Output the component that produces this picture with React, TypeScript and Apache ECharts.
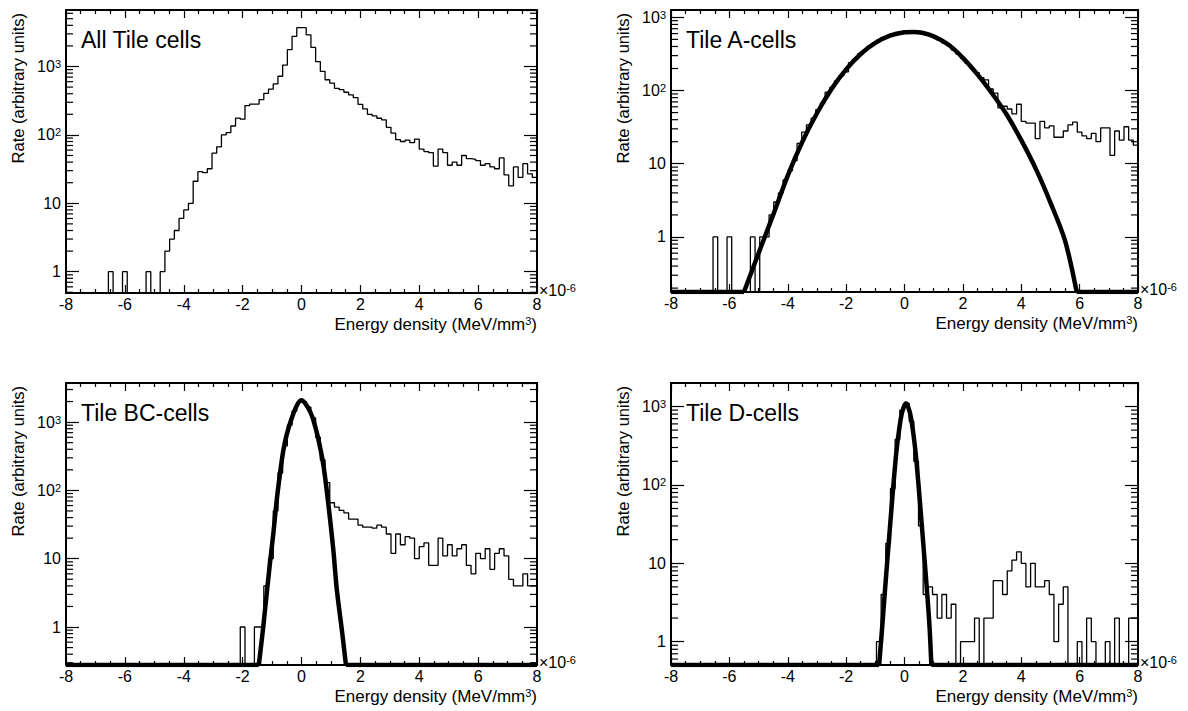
import { useEffect, useRef } from "react";
import * as echarts from "echarts";

const BIN_COUNT = 100;
const X_MIN = -8;
const X_MAX = 8;
const X_TICK_STEP = 2;

// histogram contents, 100 bins from -8 to 8 (x 10^-6 MeV/mm^3)
const allTileCounts = [
  0, 0, 0, 0, 0, 0, 0, 0, 0, 1,
  0, 0, 1, 0, 0, 0, 0, 1, 0, 0,
  1, 2, 3, 4, 6, 8, 10, 21, 29, 28,
  32, 54, 67, 100, 108, 135, 176, 170, 268, 282,
  282, 328, 405, 468, 556, 720, 1050, 1760, 2760, 3700,
  3700, 2900, 1900, 1180, 850, 640, 570, 480, 458, 420,
  385, 350, 280, 240, 200, 190, 175, 166, 129, 106,
  85, 80, 84, 77, 87, 62, 57, 55, 35, 62,
  55, 36, 40, 36, 50, 45, 44, 42, 36, 38,
  34, 32, 46, 26, 18, 34, 24, 38, 27, 24,
];

const tileACounts = [
  0, 0, 0, 0, 0, 0, 0, 0, 0, 1,
  0, 0, 1, 0, 0, 0, 0, 1, 0, 1,
  1, 2, 3, 4, 6, 8, 11, 19, 27, 34,
  42, 55, 68, 95, 110, 135, 160, 180, 240, 265,
  320, 350, 400, 440, 490, 530, 560, 590, 610, 625,
  630, 640, 640, 620, 600, 570, 530, 490, 450, 410,
  360, 315, 275, 235, 200, 175, 150, 140, 105, 92,
  58, 61, 56, 48, 65, 38, 36, 36, 22, 38,
  31, 33, 23, 23, 28, 34, 37, 27, 24, 22,
  26, 20, 31, 31, 13, 28, 21, 32, 21, 18,
];

const tileBCCounts = [
  0, 0, 0, 0, 0, 0, 0, 0, 0, 0,
  0, 0, 0, 0, 0, 0, 0, 0, 0, 0,
  0, 0, 0, 0, 0, 0, 0, 0, 0, 0,
  0, 0, 0, 0, 0, 0, 0, 1, 0, 0,
  1, 1, 4, 10, 50, 180, 450, 900, 1450, 1950,
  2000, 1650, 1150, 600, 280, 130, 66, 57, 51, 47,
  38, 38, 31, 29, 29, 28, 31, 29, 23, 12,
  23, 16, 21, 20, 10, 15, 17, 8, 8, 20,
  11, 16, 11, 14, 16, 8, 6, 12, 10, 14,
  7, 12, 14, 11, 5, 4, 4, 6, 4, 4,
];

const tileDCounts = [
  0, 0, 0, 0, 0, 0, 0, 0, 0, 0,
  0, 0, 0, 0, 0, 0, 0, 0, 0, 0,
  0, 0, 0, 0, 0, 0, 0, 0, 0, 0,
  0, 0, 0, 0, 0, 0, 0, 0, 0, 0,
  0, 0, 0, 0, 1, 4, 18, 90, 380, 900,
  1100, 650, 200, 30, 4, 5, 4, 2, 4, 2,
  3, 0, 1, 1, 1, 2, 0, 2, 2, 6,
  6, 4, 8, 11, 14, 10, 5, 10, 5, 5,
  6, 4, 1, 3, 5, 0, 0, 1, 0, 2,
  1, 0, 0, 1, 0, 2, 0, 0, 2, 2,
];

// fit curves: [x, rate]; 0 = where the curve leaves the plotted range
const tileAFit = [
  [-5.5, 0], [-5.0, 0.6], [-4.5, 2.0], [-4.0, 6.9], [-3.5, 20],
  [-3.0, 49], [-2.5, 105], [-2.0, 195], [-1.5, 316], [-1.0, 447], [-0.5, 562],
  [0.0, 624], [0.3, 631], [0.6, 617], [1.0, 550], [1.5, 425], [2.0, 280],
  [2.5, 166], [3.0, 91], [3.5, 47], [4.0, 21], [4.5, 8.5], [5.0, 2.95],
  [5.5, 0.89], [5.9, 0],
];

const tileBCFit = [
  [-1.45, 0], [-1.38, 0.5], [-1.3, 1.0], [-1.2, 2.6], [-1.07, 8.7],
  [-0.95, 25], [-0.84, 73], [-0.72, 190], [-0.62, 380], [-0.5, 660],
  [-0.33, 1150], [-0.15, 1780], [0.0, 2080], [0.15, 1820], [0.3, 1400],
  [0.4, 1080], [0.55, 620], [0.74, 240], [0.9, 70], [1.08, 13.6],
  [1.2, 3.5], [1.37, 0.91], [1.51, 0],
];

const tileDFit = [
  [-0.87, 0], [-0.78, 1.3], [-0.68, 4], [-0.58, 12], [-0.48, 35],
  [-0.38, 100], [-0.28, 260], [-0.18, 520], [-0.08, 850], [0.05, 1100],
  [0.18, 850], [0.28, 520], [0.38, 260], [0.48, 100], [0.58, 35], [0.68, 12],
  [0.78, 4], [0.86, 1.5], [0.92, 0],
];

const panelLabels = ["All Tile cells", "Tile A-cells", "Tile BC-cells", "Tile D-cells"];
const yMinima = [0.488, 0.177, 0.278, 0.504];
const yMaxima = [6700, 1260, 3735, 1995];
const yTitle = "Rate (arbitrary units)";
const xTitleText = "{b|Energy density (MeV/mm}{s|3}{b|)}";
const xScaleText = "{b|×10}{s|-6}";
const decadeLabels = ["1", "10", "{b|10}{s|2}", "{b|10}{s|3}"];
const minorMultipliers = [2, 3, 4, 5, 6, 7, 8, 9];
const decadeBases = [0.1, 1, 10, 100, 1000];

const panelCounts = [allTileCounts, tileACounts, tileBCCounts, tileDCounts];
const panelFits = [null, tileAFit, tileBCFit, tileDFit];

// layout (page pixels)
const frames = [
  { left: 66, top: 10, width: 471, height: 283 },
  { left: 671, top: 10, width: 467, height: 282 },
  { left: 66, top: 383, width: 471, height: 282 },
  { left: 671, top: 383, width: 467, height: 282 },
];

const FONT = "'Liberation Sans', Arial, Helvetica, sans-serif";
const BLACK = "#000";

const richStyles = {
  b: { fontSize: 16, fontFamily: FONT, color: BLACK },
  s: { fontSize: 11, fontFamily: FONT, color: BLACK, verticalAlign: "top" as const },
};
const richTitle = {
  b: { fontSize: 17, fontFamily: FONT, fill: BLACK },
  s: { fontSize: 11, fontFamily: FONT, fill: BLACK, verticalAlign: "top" as const },
};
const richScale = {
  b: { fontSize: 16, fontFamily: FONT, fill: BLACK },
  s: { fontSize: 11, fontFamily: FONT, fill: BLACK, verticalAlign: "top" as const },
};

function histogramSteps(counts: number[], yMin: number) {
  const w = (X_MAX - X_MIN) / BIN_COUNT;
  const pts: number[][] = [];
  counts.forEach((c, k) => {
    const v = c > 0 ? c : yMin;
    const lo = X_MIN + k * w;
    pts.push([lo, v], [lo + w, v]);
  });
  return pts;
}

function clampFit(fit: number[][], yMin: number) {
  return fit.map(([x, y]) => [x, y > yMin ? y : yMin]);
}

function minorTicks(lo: number, hi: number) {
  const out: number[][] = [];
  decadeBases.forEach((d) =>
    minorMultipliers.forEach((m) => {
      const v = m * d;
      if (v > lo && v < hi) out.push([X_MIN, v]);
    })
  );
  return out;
}

function yLabel(v: number) {
  const l = Math.log10(v);
  const e = Math.round(l);
  if (Math.abs(l - e) > 1e-6 || e < 0 || e >= decadeLabels.length) return "";
  return decadeLabels[e];
}

function buildOption() {
  const grid: any[] = [];
  const xAxis: any[] = [];
  const yAxis: any[] = [];
  const series: any[] = [];
  const graphic: any[] = [];

  frames.forEach((f, i) => {
    grid.push({ left: f.left, top: f.top, width: f.width, height: f.height, containLabel: false, outerBoundsMode: "none" });
    const axisLine = { show: true, onZero: false, lineStyle: { color: BLACK, width: 2 } };
    const xCommon = {
      type: "value",
      gridIndex: i,
      min: X_MIN,
      max: X_MAX,
      interval: X_TICK_STEP,
      axisLine,
      axisTick: { show: true, inside: true, length: 8, lineStyle: { color: BLACK, width: 1.2 } },
      minorTick: { show: true, splitNumber: 4, length: 4, lineStyle: { color: BLACK, width: 1.2 } },
      splitLine: { show: false },
      minorSplitLine: { show: false },
    };
    xAxis.push({
      ...xCommon,
      position: "bottom",
      axisLabel: { show: true, color: BLACK, fontSize: 16, fontFamily: FONT, margin: 3 },
    });
    xAxis.push({ ...xCommon, position: "top", axisLabel: { show: false } });

    const yCommon = {
      type: "log",
      logBase: 10,
      gridIndex: i,
      min: yMinima[i],
      max: yMaxima[i],
      axisLine,
      axisTick: { show: true, inside: true, length: 13, lineStyle: { color: BLACK, width: 1.2 } },
      splitLine: { show: false },
    };
    yAxis.push({
      ...yCommon,
      position: "left",
      axisLabel: {
        show: true,
        color: BLACK,
        fontSize: 16,
        fontFamily: FONT,
        margin: 5,
        showMinLabel: false,
        showMaxLabel: false,
        formatter: (v: number) => yLabel(v),
        rich: richStyles,
      },
    });
    yAxis.push({ ...yCommon, position: "right", axisLabel: { show: false } });

    series.push({
      type: "line",
      xAxisIndex: 2 * i,
      yAxisIndex: 2 * i,
      data: histogramSteps(panelCounts[i], yMinima[i]),
      showSymbol: false,
      symbol: "none",
      lineStyle: { color: BLACK, width: 1.3 },
      z: 2,
      silent: true,
    });
    const fit = panelFits[i];
    if (fit) {
      const fitLine = { color: BLACK, width: 4.5 };
      series.push({
        type: "line",
        xAxisIndex: 2 * i,
        yAxisIndex: 2 * i,
        data: clampFit(fit, yMinima[i]),
        showSymbol: false,
        symbol: "none",
        smooth: 0.3,
        lineStyle: fitLine,
        z: 3,
        silent: true,
      });
      // parts of the fit function that lie below the plotted range
      const x0 = fit[0][0];
      const x1 = fit[fit.length - 1][0];
      [[X_MIN, x0], [x1, X_MAX]].forEach(([a, b]) =>
        series.push({
          type: "line",
          xAxisIndex: 2 * i,
          yAxisIndex: 2 * i,
          data: [[a, yMinima[i]], [b, yMinima[i]]],
          showSymbol: false,
          symbol: "none",
          lineStyle: fitLine,
          z: 3,
          silent: true,
        })
      );
    }
    series.push({
      type: "custom",
      xAxisIndex: 2 * i,
      yAxisIndex: 2 * i,
      data: minorTicks(yMinima[i], yMaxima[i]),
      silent: true,
      z: 4,
      renderItem: (_p: any, api: any) => {
        const v = api.value(1);
        const pl = api.coord([X_MIN, v]);
        const pr = api.coord([X_MAX, v]);
        const style = { stroke: BLACK, lineWidth: 1.2 };
        return {
          type: "group",
          children: [
            { type: "line", shape: { x1: pl[0], y1: pl[1], x2: pl[0] + 7, y2: pl[1] }, style },
            { type: "line", shape: { x1: pr[0] - 7, y1: pr[1], x2: pr[0], y2: pr[1] }, style },
          ],
        };
      },
    });

    const right = f.left + f.width;
    const bottom = f.top + f.height;
    graphic.push({
      type: "text",
      x: f.left + 15,
      y: f.top + 30,
      style: { text: panelLabels[i], fontSize: 23, fontFamily: FONT, fill: BLACK, verticalAlign: "middle" },
    });
    graphic.push({
      type: "text",
      x: f.left - 48,
      y: f.top + 3,
      rotation: Math.PI / 2,
      style: { text: yTitle, fontSize: 16.5, fontFamily: FONT, fill: BLACK, align: "right", verticalAlign: "middle" },
    });
    graphic.push({
      type: "text",
      x: right,
      y: bottom + 31,
      style: { text: xTitleText, rich: richTitle, align: "right", verticalAlign: "middle" },
    });
    graphic.push({
      type: "text",
      x: right + 2,
      y: bottom - 3,
      style: { text: xScaleText, rich: richScale, align: "left", verticalAlign: "middle" },
    });
  });

  return {
    animation: false,
    backgroundColor: "#fff",
    grid,
    xAxis,
    yAxis,
    series,
    graphic,
  };
}

export default function App() {
  const ref = useRef<HTMLDivElement>(null);
  useEffect(() => {
    if (!ref.current) return;
    const chart = echarts.init(ref.current, null, { renderer: "svg" });
    chart.setOption(buildOption() as any);
    return () => chart.dispose();
  }, []);
  return (
    <div
      ref={ref}
      style={{ position: "absolute", left: 0, top: 0, width: 1188, height: 711 }}
    />
  );
}
